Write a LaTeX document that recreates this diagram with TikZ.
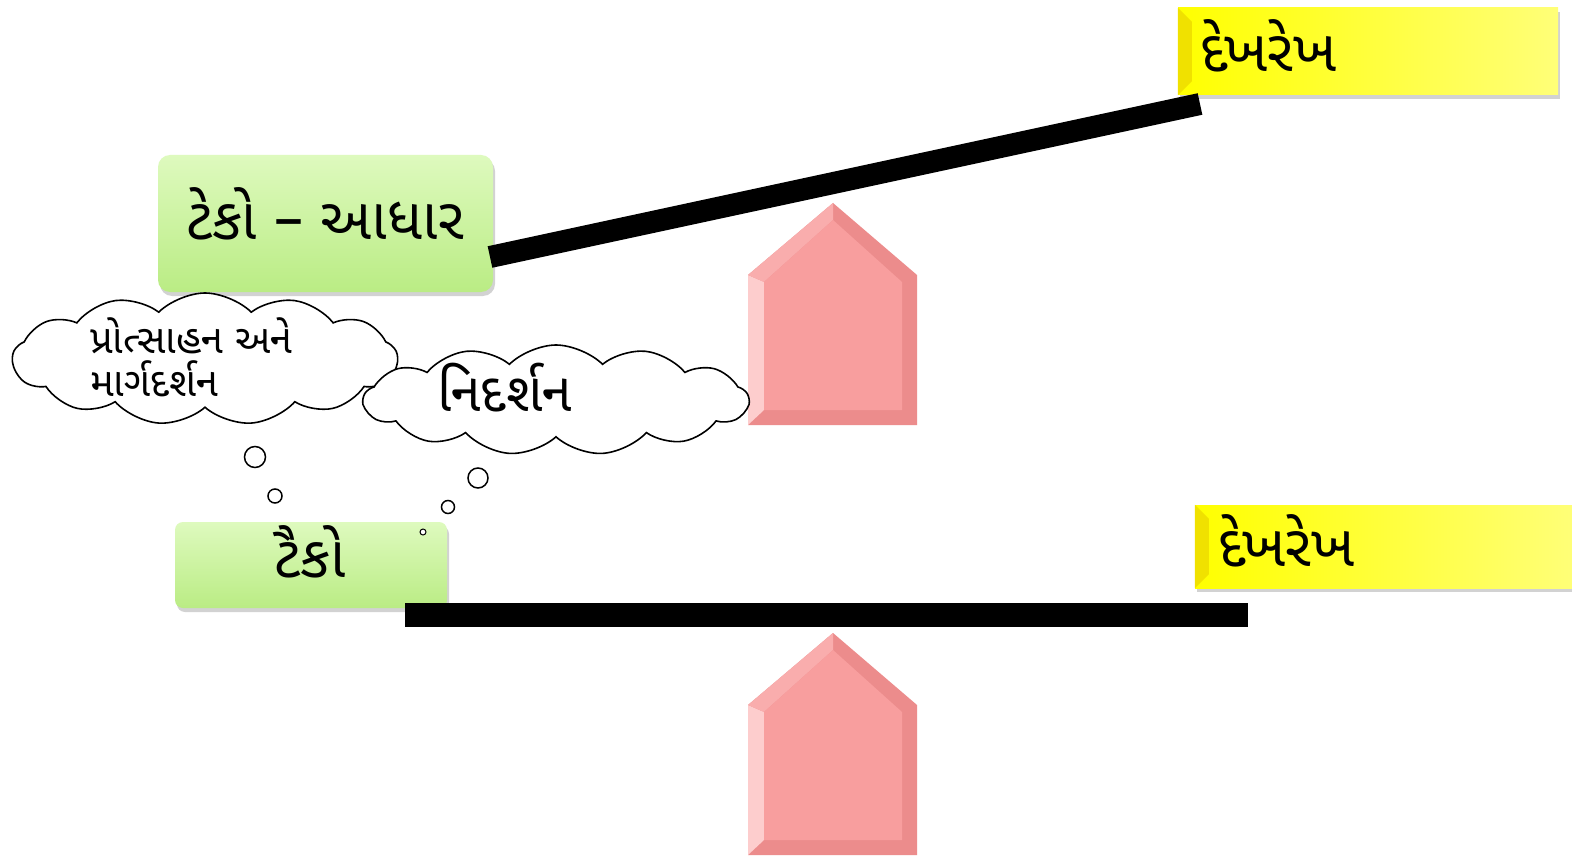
\documentclass[tikz,border=0pt]{standalone}
\usepackage{fontspec}
\newfontfamily\guj[Script=Gujarati]{Noto Sans Gujarati UI}
\usetikzlibrary{shapes.symbols,shadows}
\definecolor{gtop}{RGB}{222,250,190}
\definecolor{gbot}{RGB}{186,236,132}
\definecolor{ylw}{RGB}{255,255,0}
\definecolor{ylwl}{RGB}{255,255,120}
\definecolor{ylwd}{RGB}{240,225,0}
\definecolor{pinkm}{RGB}{248,158,158}
\definecolor{pinkl}{RGB}{253,205,205}
\definecolor{pinkd}{RGB}{236,140,140}
\begin{document}
\begin{tikzpicture}[x=1pt,y=-1pt,
  gbox/.style={rounded corners=12pt, top color=gtop, bottom color=gbot, draw=none,
     drop shadow={shadow xshift=2pt, shadow yshift=-4pt, opacity=0.35}},
  ybox/.style={left color=ylw, right color=ylwl, draw=none,
     drop shadow={shadow xshift=2pt, shadow yshift=-4pt, opacity=0.35}},
  beam/.style={line width=22pt, black},
  thought/.style={cloud, cloud puffs=13, cloud puff arc=90, draw=black, line width=1.6pt, fill=white, aspect=3},
  bubble/.style={circle, draw=black, line width=1.5pt, fill=white, inner sep=0pt},
  bigtxt/.style={font=\guj\fontsize{58}{62}\selectfont, inner sep=0pt},
  cltxt/.style={font=\guj\fontsize{40}{43}\selectfont, inner sep=0pt, align=left},
]
\useasboundingbox (0,0) rectangle (1572,861);
\fill[white] (0,0) rectangle (1572,861);

% pentagon supports
\foreach \dy/\nm in {0/p1,430/p2}{
  \fill[pinkd] (748,275+\dy) -- (833,203+\dy) -- (917,275+\dy) -- (917,425+\dy) -- (748,425+\dy) -- cycle;
  \fill[pinkl] (748,275+\dy) -- (764,282+\dy) -- (764,410+\dy) -- (748,425+\dy) -- cycle;
  \fill[pinkm!85!white] (748,275+\dy) -- (833,203+\dy) -- (833,220+\dy) -- (764,282+\dy) -- cycle;
  \fill[pinkm] (764,282+\dy) -- (833,220+\dy) -- (902,282+\dy) -- (902,410+\dy) -- (764,410+\dy) -- cycle;
}

% boxes
\node[gbox, minimum width=335pt, minimum height=137pt] (g1) at (325.5,223.5) {};
\node[bigtxt] (g1t) at (325,214) {ટેકો – આધાર};
\node[gbox, rounded corners=8pt, minimum width=272pt, minimum height=86pt] (g2) at (311,565) {};
\node[bigtxt] (g2t) at (310,552) {ટૈકો};
\node[ybox, minimum width=380pt, minimum height=87pt] (y1) at (1368,51.5) {};
\fill[ylwd] (y1.north west) -- ++(14,14) -- ([xshift=14pt,yshift=14pt]y1.south west) -- (y1.south west) -- cycle;
\node[bigtxt, anchor=west] (y1t) at (1200,46) {દેખરેખ};
\node[ybox, minimum width=380pt, minimum height=83pt] (y2) at (1385,546.5) {};
\fill[ylwd] (y2.north west) -- ++(14,14) -- ([xshift=14pt,yshift=14pt]y2.south west) -- (y2.south west) -- cycle;
\node[bigtxt, anchor=west] (y2t) at (1218,541) {દેખરેખ};

% beams
\coordinate (b1s) at (490,257);
\coordinate (b1e) at (1200,104);
\draw[beam] (b1s) -- (b1e);
\coordinate (b2s) at (405,615);
\coordinate (b2e) at (1248,615);
\draw[beam, line width=24pt] (b2s) -- (b2e);

% thought clouds
\node[thought, minimum width=385pt, minimum height=132pt] (c1) at (205,359) {};
\node[cltxt, anchor=west] (c1t) at (90,357) {પ્રોત્સાહન અને\\માર્ગદર્શન};
\node[thought, minimum width=385pt, minimum height=110pt] (c2) at (556,400) {};
\node[cltxt, anchor=west, font=\guj\fontsize{54}{58}\selectfont] (c2t) at (437,388) {નિદર્શન};

\node[bubble, minimum size=21pt] (t1a) at (255,457) {};
\node[bubble, minimum size=14pt] (t1b) at (275,496) {};
\node[bubble, minimum size=20pt] (t2a) at (478,478) {};
\node[bubble, minimum size=13pt] (t2b) at (448,507) {};
\node[bubble, minimum size=6pt, line width=1pt] (t2c) at (423,532) {};
\end{tikzpicture}
\end{document}
